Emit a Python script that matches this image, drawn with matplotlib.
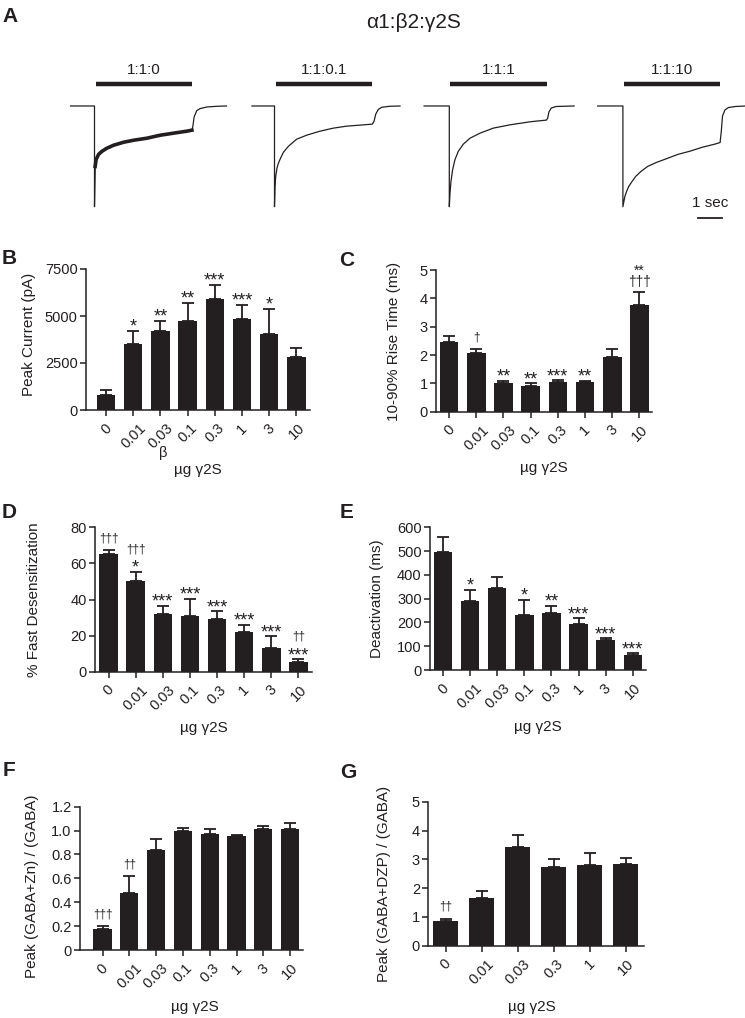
import numpy as np
import matplotlib
matplotlib.use("Agg")
import matplotlib.pyplot as plt

plt.rcParams['font.family'] = ['Liberation Sans', 'DejaVu Sans']

W, H = 745, 1018
INK = '#231f20'

# ─────────────────────────────────────────────
# Panel A: current traces (time in s, current as fraction of peak)
# ─────────────────────────────────────────────
ratios = ['1:1:0', '1:1:0.1', '1:1:1', '1:1:10']

trace1_t = [-1.0, 0.0, 0.0, 0.028, 0.069, 0.17, 0.31, 0.51, 0.79, 1.21, 1.63, 2.18,
            2.74, 3.29, 3.85, 4.06, 4.1, 4.15, 4.26, 4.4, 4.68, 5.1, 5.5]
trace1_i = [0, 0, 1.0, 0.60, 0.53, 0.48, 0.45, 0.42, 0.39, 0.36, 0.34, 0.32,
            0.29, 0.27, 0.25, 0.24, 0.20, 0.11, 0.046, 0.026, 0.01, 0.003, 0]

trace2_t = [-0.94, 0.0, 0.0, 0.02, 0.05, 0.1, 0.16, 0.23, 0.37, 0.58, 0.92, 1.34,
            1.9, 2.45, 3.01, 3.56, 4.08, 4.15, 4.22, 4.33, 4.47, 4.8, 5.23]
trace2_i = [0, 0, 1.0, 0.80, 0.70, 0.62, 0.57, 0.53, 0.46, 0.40, 0.33, 0.29,
            0.25, 0.22, 0.20, 0.19, 0.18, 0.15, 0.08, 0.033, 0.013, 0.003, 0]

trace3_t = [-1.05, 0.0, 0.0, 0.028, 0.07, 0.14, 0.24, 0.375, 0.58, 0.86, 1.28,
            1.83, 2.53, 3.36, 4.05, 4.1, 4.15, 4.25, 4.45, 5.2]
trace3_i = [0, 0, 1.0, 0.87, 0.75, 0.63, 0.53, 0.45, 0.38, 0.32, 0.27,
            0.22, 0.187, 0.157, 0.14, 0.12, 0.06, 0.02, 0.005, 0]

trace4_t = [-1.05, 0.0, 0.0, 0.08, 0.15, 0.24, 0.38, 0.53, 0.75, 1.03, 1.4, 1.82,
            2.3, 2.82, 3.3, 3.81, 4.05, 4.1, 4.15, 4.25, 4.4, 4.7, 5.1]
trace4_i = [0, 0, 1.0, 0.90, 0.85, 0.80, 0.75, 0.70, 0.65, 0.60, 0.56, 0.523,
            0.48, 0.447, 0.41, 0.38, 0.363, 0.25, 0.10, 0.04, 0.015, 0.005, 0]

gaba_on, gaba_off = 0.05, 4.05      # application bar (s)
scale_bar_sec = 1

# ─────────────────────────────────────────────
# Panels B–G: bar chart data (mean, SEM, significance)
# ─────────────────────────────────────────────
doses = ['0', '0.01', '0.03', '0.1', '0.3', '1', '3', '10']
doses_dzp = ['0', '0.01', '0.03', '0.3', '1', '10']

peak_mean = [800, 3510, 4220, 4735, 5900, 4820, 4060, 2800]
peak_sem = [264, 710, 530, 955, 750, 770, 1310, 510]
peak_sig = ['', '*', '**', '**', '***', '***', '*', '']

rise_mean = [2.47, 2.06, 1.02, 0.92, 1.06, 1.04, 1.94, 3.77]
rise_sem = [0.20, 0.14, 0.08, 0.08, 0.05, 0.04, 0.29, 0.45]
rise_sig = ['', '†', '**', '**', '***', '**', '', '**\n†††']

desens_mean = [65.4, 50.3, 31.7, 30.9, 29.3, 21.8, 13.1, 5.5]
desens_sem = [1.8, 5.0, 4.6, 9.3, 4.2, 4.2, 6.5, 1.4]
desens_sig = ['†††', '†††\n*', '***', '***', '***', '***', '***', '††\n***']

deact_mean = [497, 290, 343, 231, 238, 193, 126, 63]
deact_sem = [63, 46, 46, 63, 31, 24, 7, 7]
deact_sig = ['', '*', '', '*', '**', '***', '***', '***']

zn_mean = [0.18, 0.48, 0.84, 1.0, 0.97, 0.955, 1.013, 1.013]
zn_sem = [0.02, 0.14, 0.09, 0.02, 0.04, 0.01, 0.027, 0.047]
zn_sig = ['†††', '††', '', '', '', '', '', '']

dzp_mean = [0.87, 1.65, 3.44, 2.74, 2.80, 2.83]
dzp_sem = [0.07, 0.26, 0.40, 0.26, 0.41, 0.20]
dzp_sig = ['††', '', '', '', '', '']

TICK_FS = 10.5
LABEL_FS = 11
PT = 0.72  # points per pixel at dpi 100

fig = plt.figure(figsize=(W / 100, H / 100), dpi=100)


def px_axes(x0, x1, ytop, ybot):
    """Axes from pixel box (left, right, top, bottom) in figure pixels."""
    return fig.add_axes([x0 / W, 1 - ybot / H, (x1 - x0) / W, (ybot - ytop) / H])


def ftext(px, py, s, **kw):
    return fig.text(px / W, 1 - py / H, s, **kw)


# ── Panel A ──
onsets_px = [94.5, 274.5, 449.3, 622.9]
px_per_sec = 24.0
traces = [(trace1_t, trace1_i), (trace2_t, trace2_i),
          (trace3_t, trace3_i), (trace4_t, trace4_i)]
t_lo, t_hi = -1.2, 5.6
for k, (tt, ii) in enumerate(traces):
    x0 = onsets_px[k] + t_lo * px_per_sec
    x1 = onsets_px[k] + t_hi * px_per_sec
    ax = px_axes(x0, x1, 55, 230)
    ax.set_xlim(t_lo, t_hi)
    ax.set_ylim(-1.231, 0.506)
    ax.axis('off')
    tt = np.array(tt)
    cur = -np.array(ii)
    ax.plot(tt, cur, color=INK, lw=0.9, clip_on=False, solid_joinstyle='round')
    if k == 0:
        # first recording is noisy: draw it as a thicker band
        m = (tt >= 0.02) & (tt <= 4.06)
        ax.plot(tt[m], cur[m], color=INK, lw=2.6, clip_on=False)
    ax.plot([gaba_on, gaba_off], [0.218, 0.218], color=INK, lw=3.2,
            solid_capstyle='butt')
    ax.text((gaba_on + gaba_off) / 2, 0.36, ratios[k], ha='center', va='center',
            fontsize=11, color=INK)
    if k == 3:
        sb0 = 3.13
        ax.plot([sb0, sb0 + scale_bar_sec], [-1.11, -1.11], color=INK, lw=1.3,
                clip_on=False)
        ax.text(sb0 + scale_bar_sec / 2, -0.96, f'{scale_bar_sec} sec',
                ha='center', va='center', fontsize=11, color=INK)

ftext(414, 22, 'α1:β2:γ2S', ha='center', va='center', fontsize=15, color=INK)


def draw_sig(ax, x, top, s):
    """Significance marks above an error bar cap."""
    lines = s.split('\n')
    if len(lines) > 1 and '†' in lines[-1]:
        # asterisks stacked over daggers: one tightly spaced text block
        ax.annotate(s, (x, top), xytext=(0, 4.5), textcoords='offset points',
                    ha='center', va='baseline', fontsize=10, linespacing=0.74,
                    color=INK, annotation_clip=False)
        return
    base, gap = 0.0, 7.0
    for line in lines[::-1]:
        if '†' in line:
            fs = 8.5
            ink_h, ink_mid = 0.87 * fs / PT, 0.28 * fs / PT
        else:
            fs = 13
            ink_h, ink_mid = 0.29 * fs / PT, 0.575 * fs / PT
        bottom = base + gap
        baseline = bottom + ink_h / 2 - ink_mid
        ax.annotate(line, (x, top), xytext=(0, baseline * PT),
                    textcoords='offset points', ha='center', va='baseline',
                    fontsize=fs, color=INK, annotation_clip=False)
        base = bottom + ink_h
        gap = 5.5


# ── Bar panels ──
def bar_panel(box, xlim, labels, mean, sem, sig, ylim, yticks, yticklabels,
              ylabel, ylab_xy, xlab_xy):
    ax = px_axes(*box)
    n = len(mean)
    x = np.arange(n)
    ax.bar(x, mean, width=0.68, color=INK, zorder=3)
    ax.errorbar(x, mean, yerr=[np.zeros(n), sem], fmt='none', ecolor=INK,
                elinewidth=1.3, capsize=4, capthick=1.3, zorder=2)
    ax.set_xlim(*xlim)
    ax.set_ylim(*ylim)
    for s in ['top', 'right']:
        ax.spines[s].set_visible(False)
    for s in ['left', 'bottom']:
        ax.spines[s].set_linewidth(1.1)
        ax.spines[s].set_color(INK)
    ax.set_xticks(x)
    ax.set_xticklabels(labels, rotation=45, ha='center', va='top')
    ax.set_yticks(yticks)
    ax.set_yticklabels(yticklabels)
    ax.tick_params(axis='both', length=4, width=1.1, colors=INK,
                   labelsize=TICK_FS)
    ax.tick_params(axis='x', pad=4)
    ax.tick_params(axis='y', pad=2)
    for i in range(n):
        if sig[i]:
            draw_sig(ax, x[i], mean[i] + sem[i], sig[i])
    ftext(ylab_xy[0], ylab_xy[1], ylabel, rotation=90, ha='center', va='center',
          fontsize=LABEL_FS, color=INK)
    ftext(xlab_xy[0], xlab_xy[1], 'µg γ2S', ha='center', va='center',
          fontsize=LABEL_FS, color=INK)
    return ax


bar_panel((86, 310, 269, 410), (-0.735, 7.5), doses, peak_mean, peak_sem, peak_sig,
          (0, 7500), [0, 2500, 5000, 7500], ['0', '2500', '5000', '7500'],
          'Peak Current (pA)', (29, 334), (198, 470))
ftext(163, 453, 'β', ha='center', va='center', fontsize=TICK_FS, color=INK)

bar_panel((436, 651.7, 270, 411.7), (-0.48, 7.45), doses, rise_mean, rise_sem, rise_sig,
          (0, 5), range(6), [str(v) for v in range(6)],
          '10-90% Rise Time (ms)', (394, 341), (544, 468))

bar_panel((95, 312, 527.3, 671.7), (-0.5, 7.5), doses, desens_mean, desens_sem,
          desens_sig, (0, 80), [0, 20, 40, 60, 80], ['0', '20', '40', '60', '80'],
          '% Fast Desensitization', (34, 600), (204, 728))

bar_panel((430, 646, 527.3, 670), (-0.48, 7.49), doses, deact_mean, deact_sem,
          deact_sig, (0, 600), range(0, 700, 100), [str(v) for v in range(0, 700, 100)],
          'Deactivation (ms)', (377, 599), (538, 727))

bar_panel((80, 303.3, 806.7, 950), (-0.84, 7.49), doses, zn_mean, zn_sem, zn_sig,
          (0, 1.2), [0, 0.2, 0.4, 0.6, 0.8, 1.0, 1.2],
          ['0', '0.2', '0.4', '0.6', '0.8', '1.0', '1.2'],
          'Peak (GABA+Zn) / (GABA)', (32, 886), (195, 1007))

bar_panel((428.3, 644, 801.7, 945.7), (-0.48, 5.51), doses_dzp, dzp_mean, dzp_sem,
          dzp_sig, (0, 5), range(6), [str(v) for v in range(6)],
          'Peak (GABA+DZP) / (GABA)', (384, 884), (532, 1007))

# panel letters
for letter, (px, py) in {'A': (10, 16), 'B': (9, 258), 'C': (347, 260),
                         'D': (9, 512), 'E': (347, 512), 'F': (9, 770),
                         'G': (348, 772)}.items():
    ftext(px, py, letter, ha='center', va='center', fontsize=15,
          fontweight='bold', color=INK)

fig.savefig('out.png', dpi=100, facecolor='white')
